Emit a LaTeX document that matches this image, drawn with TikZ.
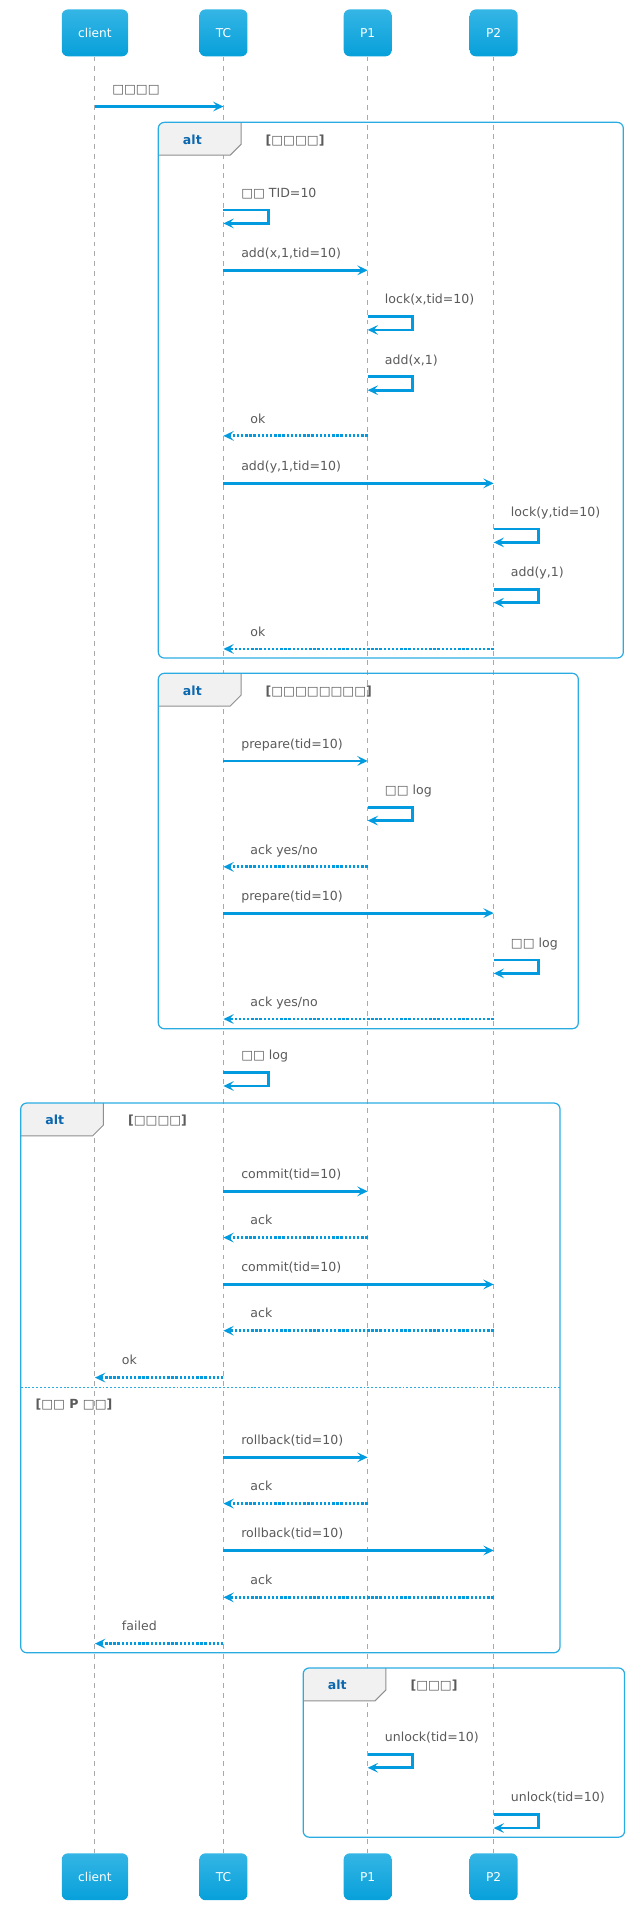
\documentclass[tikz,border=0pt]{standalone}
\usepackage{fontspec}
\setmainfont{DejaVu Sans}
\usetikzlibrary{arrows.meta}
\pgfdeclarelayer{edgelayer}
\pgfdeclarelayer{nodelayer}
\pgfsetlayers{edgelayer,nodelayer,main}
\definecolor{actortop}{HTML}{34B5E5}
\definecolor{actorbottom}{HTML}{07A0DA}
\definecolor{arrowblue}{HTML}{039BDF}
\definecolor{frameblue}{HTML}{2AACE2}
\definecolor{tabgray}{HTML}{F1F1F1}
\definecolor{tabedge}{HTML}{8F8F8F}
\definecolor{altblue}{HTML}{0B67AE}
\definecolor{textgray}{HTML}{5A5A5A}
\definecolor{linegray}{HTML}{A9A9A9}
\tikzstyle{none}=[]
\tikzstyle{actor}=[rectangle, rounded corners=5pt, top color=actortop, bottom color=actorbottom, text=white, minimum height=38.5pt, inner xsep=13.5pt, font=\fontsize{10}{12}\selectfont]
\tikzstyle{msg}=[anchor=base west, inner sep=0pt, text=textgray, font=\fontsize{10.3}{12}\selectfont]
\tikzstyle{alt tag}=[anchor=base, inner sep=0pt, text=altblue, font=\fontsize{10.3}{12}\selectfont\bfseries]
\tikzstyle{guard}=[anchor=base west, inner sep=0pt, text=textgray, font=\fontsize{10.3}{12}\selectfont\bfseries]
\tikzstyle{lifeline}=[draw=linegray, line width=0.8pt, dash pattern=on 4pt off 4pt]
\tikzstyle{call}=[draw=arrowblue, line width=2.3pt, -{Stealth[length=8.5pt,width=8pt,inset=3.5pt]}]
\tikzstyle{reply}=[style=call, dash pattern=on 2pt off 1.4pt]
\tikzstyle{frame}=[draw=frameblue, line width=1pt, rounded corners=5pt]
\tikzstyle{tab}=[fill=tabgray]
\tikzstyle{tab edge}=[draw=tabedge, line width=0.8pt]
\tikzstyle{else line}=[draw=frameblue, line width=0.8pt, dash pattern=on 1.6pt off 1.6pt]

\begin{document}
\begin{tikzpicture}[x=1pt, y=-1pt]
	\useasboundingbox (0, 0) rectangle (522, 1568);
	\begin{pgfonlayer}{nodelayer}
		\node [style=actor] (0) at (78, 27) {client};
		\node [style=actor] (1) at (183.5, 27) {TC};
		\node [style=actor] (2) at (302, 27) {P1};
		\node [style=actor] (3) at (405.5, 27) {P2};
		\node [style=actor] (4) at (78, 1541.5) {client};
		\node [style=actor] (5) at (183.5, 1541.5) {TC};
		\node [style=actor] (6) at (302, 1541.5) {P1};
		\node [style=actor] (7) at (405.5, 1541.5) {P2};
		\node [style=none] (8) at (78, 87.5) {};
		\node [style=none] (9) at (183.5, 87.5) {};
		\node [style=msg] (10) at (92, 77) {□□□□};
		\node [style=alt tag] (11) at (158, 118.5) {alt};
		\node [style=guard] (12) at (218, 118.5) {[□□□□]};
		\node [style=none] (13) at (183.5, 172.5) {};
		\node [style=none] (14) at (183.5, 183.5) {};
		\node [style=msg] (15) at (198, 162) {□□ TID=10};
		\node [style=none] (16) at (183.5, 222) {};
		\node [style=none] (17) at (302, 222) {};
		\node [style=msg] (18) at (198, 211.5) {add(x,1,tid=10)};
		\node [style=none] (19) at (302, 260) {};
		\node [style=none] (20) at (302, 271) {};
		\node [style=msg] (21) at (316, 249.5) {lock(x,tid=10)};
		\node [style=none] (22) at (302, 309.5) {};
		\node [style=none] (23) at (302, 320.5) {};
		\node [style=msg] (24) at (316, 299) {add(x,1)};
		\node [style=none] (25) at (302, 358) {};
		\node [style=none] (26) at (183.5, 358) {};
		\node [style=msg] (27) at (205.5, 347.5) {ok};
		\node [style=none] (28) at (183.5, 397) {};
		\node [style=none] (29) at (405.5, 397) {};
		\node [style=msg] (30) at (198, 386.5) {add(y,1,tid=10)};
		\node [style=none] (31) at (405.5, 434.5) {};
		\node [style=none] (32) at (405.5, 445.5) {};
		\node [style=msg] (33) at (419.5, 424) {lock(y,tid=10)};
		\node [style=none] (34) at (405.5, 484) {};
		\node [style=none] (35) at (405.5, 495) {};
		\node [style=msg] (36) at (419.5, 473.5) {add(y,1)};
		\node [style=none] (37) at (405.5, 533) {};
		\node [style=none] (38) at (183.5, 533) {};
		\node [style=msg] (39) at (205.5, 522.5) {ok};
		\node [style=alt tag] (40) at (158, 571.3) {alt};
		\node [style=guard] (41) at (218, 571.3) {[□□□□□□□□]};
		\node [style=none] (42) at (183.5, 625) {};
		\node [style=none] (43) at (302, 625) {};
		\node [style=msg] (44) at (198, 614.5) {prepare(tid=10)};
		\node [style=none] (45) at (302, 663) {};
		\node [style=none] (46) at (302, 674) {};
		\node [style=msg] (47) at (316, 652.5) {□□ log};
		\node [style=none] (48) at (302, 712) {};
		\node [style=none] (49) at (183.5, 712) {};
		\node [style=msg] (50) at (205.5, 701.5) {ack yes/no};
		\node [style=none] (51) at (183.5, 750) {};
		\node [style=none] (52) at (405.5, 750) {};
		\node [style=msg] (53) at (198, 739.5) {prepare(tid=10)};
		\node [style=none] (54) at (405.5, 788.5) {};
		\node [style=none] (55) at (405.5, 799.5) {};
		\node [style=msg] (56) at (419.5, 778) {□□ log};
		\node [style=none] (57) at (405.5, 837) {};
		\node [style=none] (58) at (183.5, 837) {};
		\node [style=msg] (59) at (205.5, 826.5) {ack yes/no};
		\node [style=none] (60) at (183.5, 881) {};
		\node [style=none] (61) at (183.5, 892) {};
		\node [style=msg] (62) at (198, 870.5) {□□ log};
		\node [style=alt tag] (63) at (45, 924) {alt};
		\node [style=guard] (64) at (105, 924) {[□□□□]};
		\node [style=none] (65) at (183.5, 978.5) {};
		\node [style=none] (66) at (302, 978.5) {};
		\node [style=msg] (67) at (198, 968) {commit(tid=10)};
		\node [style=none] (68) at (302, 1016.5) {};
		\node [style=none] (69) at (183.5, 1016.5) {};
		\node [style=msg] (70) at (205.5, 1006) {ack};
		\node [style=none] (71) at (183.5, 1055) {};
		\node [style=none] (72) at (405.5, 1055) {};
		\node [style=msg] (73) at (198, 1044.5) {commit(tid=10)};
		\node [style=none] (74) at (405.5, 1093) {};
		\node [style=none] (75) at (183.5, 1093) {};
		\node [style=msg] (76) at (205.5, 1082.5) {ack};
		\node [style=none] (77) at (183.5, 1131.5) {};
		\node [style=none] (78) at (78, 1131.5) {};
		\node [style=msg] (79) at (100, 1121) {ok};
		\node [style=guard] (80) at (29, 1156.5) {[□□ P □□]};
		\node [style=none] (81) at (183.5, 1197) {};
		\node [style=none] (82) at (302, 1197) {};
		\node [style=msg] (83) at (198, 1186.5) {rollback(tid=10)};
		\node [style=none] (84) at (302, 1235) {};
		\node [style=none] (85) at (183.5, 1235) {};
		\node [style=msg] (86) at (205.5, 1224.5) {ack};
		\node [style=none] (87) at (183.5, 1273.5) {};
		\node [style=none] (88) at (405.5, 1273.5) {};
		\node [style=msg] (89) at (198, 1263) {rollback(tid=10)};
		\node [style=none] (90) at (405.5, 1312) {};
		\node [style=none] (91) at (183.5, 1312) {};
		\node [style=msg] (92) at (205.5, 1301.5) {ack};
		\node [style=none] (93) at (183.5, 1350) {};
		\node [style=none] (94) at (78, 1350) {};
		\node [style=msg] (95) at (100, 1339.5) {failed};
		\node [style=alt tag] (96) at (277, 1388) {alt};
		\node [style=guard] (97) at (337, 1388) {[□□□]};
		\node [style=none] (98) at (302, 1441) {};
		\node [style=none] (99) at (302, 1452) {};
		\node [style=msg] (100) at (316, 1430.5) {unlock(tid=10)};
		\node [style=none] (101) at (405.5, 1490.5) {};
		\node [style=none] (102) at (405.5, 1501.5) {};
		\node [style=msg] (103) at (419.5, 1480) {unlock(tid=10)};
		\node [style=none] (104) at (17, 1139.4) {};
		\node [style=none] (105) at (460, 1139.4) {};
	\end{pgfonlayer}
	\begin{pgfonlayer}{edgelayer}
		\draw [style=lifeline] (0) to (4);
		\draw [style=lifeline] (1) to (5);
		\draw [style=lifeline] (2) to (6);
		\draw [style=lifeline] (3) to (7);
		% alt frames
		\begin{scope}
			\clip [rounded corners=5pt] (130, 100.5) rectangle (512, 540.5);
			\fill [style=tab] (130, 100.5) -- (198, 100.5) -- (198, 118.5) -- (189, 127.5) -- (130, 127.5) -- cycle;
		\end{scope}
		\draw [style=tab edge] (130, 127.5) -- (189, 127.5) -- (198, 118.5) -- (198, 100.5);
		\draw [style=frame] (130, 100.5) rectangle (512, 540.5);
		\begin{scope}
			\clip [rounded corners=5pt] (130, 553) rectangle (475, 845);
			\fill [style=tab] (130, 553) -- (198, 553) -- (198, 571) -- (189, 580) -- (130, 580) -- cycle;
		\end{scope}
		\draw [style=tab edge] (130, 580) -- (189, 580) -- (198, 571) -- (198, 553);
		\draw [style=frame] (130, 553) rectangle (475, 845);
		\begin{scope}
			\clip [rounded corners=5pt] (17, 906) rectangle (460, 1357.5);
			\fill [style=tab] (17, 906) -- (85, 906) -- (85, 924) -- (76, 933) -- (17, 933) -- cycle;
		\end{scope}
		\draw [style=tab edge] (17, 933) -- (76, 933) -- (85, 924) -- (85, 906);
		\draw [style=frame] (17, 906) rectangle (460, 1357.5);
		\draw [style=else line] (104.center) to (105.center);
		\begin{scope}
			\clip [rounded corners=5pt] (249, 1370) rectangle (513, 1509);
			\fill [style=tab] (249, 1370) -- (317, 1370) -- (317, 1388) -- (308, 1397) -- (249, 1397) -- cycle;
		\end{scope}
		\draw [style=tab edge] (249, 1397) -- (308, 1397) -- (317, 1388) -- (317, 1370);
		\draw [style=frame] (249, 1370) rectangle (513, 1509);
		% messages
		\draw [style=call] (8.center) to (9.center);
		\draw [style=call] (13.center) -- ++(37, 0) |- (14.center);
		\draw [style=call] (16.center) to (17.center);
		\draw [style=call] (19.center) -- ++(37, 0) |- (20.center);
		\draw [style=call] (22.center) -- ++(37, 0) |- (23.center);
		\draw [style=reply] (25.center) to (26.center);
		\draw [style=call] (28.center) to (29.center);
		\draw [style=call] (31.center) -- ++(37, 0) |- (32.center);
		\draw [style=call] (34.center) -- ++(37, 0) |- (35.center);
		\draw [style=reply] (37.center) to (38.center);
		\draw [style=call] (42.center) to (43.center);
		\draw [style=call] (45.center) -- ++(37, 0) |- (46.center);
		\draw [style=reply] (48.center) to (49.center);
		\draw [style=call] (51.center) to (52.center);
		\draw [style=call] (54.center) -- ++(37, 0) |- (55.center);
		\draw [style=reply] (57.center) to (58.center);
		\draw [style=call] (60.center) -- ++(37, 0) |- (61.center);
		\draw [style=call] (65.center) to (66.center);
		\draw [style=reply] (68.center) to (69.center);
		\draw [style=call] (71.center) to (72.center);
		\draw [style=reply] (74.center) to (75.center);
		\draw [style=reply] (77.center) to (78.center);
		\draw [style=call] (81.center) to (82.center);
		\draw [style=reply] (84.center) to (85.center);
		\draw [style=call] (87.center) to (88.center);
		\draw [style=reply] (90.center) to (91.center);
		\draw [style=reply] (93.center) to (94.center);
		\draw [style=call] (98.center) -- ++(37, 0) |- (99.center);
		\draw [style=call] (101.center) -- ++(37, 0) |- (102.center);
	\end{pgfonlayer}
\end{tikzpicture}
\end{document}
